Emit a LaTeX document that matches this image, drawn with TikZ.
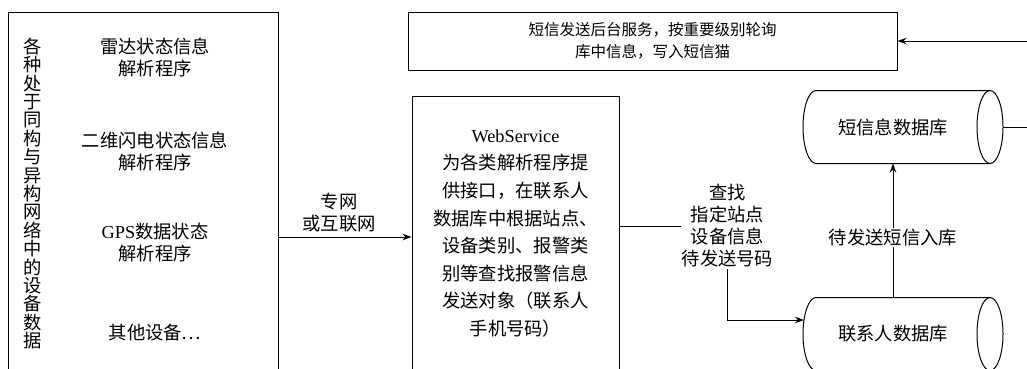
\documentclass[tikz,border=0pt]{standalone}
\usepackage{fontspec}
\setmainfont{Liberation Serif}
\newfontfamily\cjk{Noto Sans CJK SC}
\usetikzlibrary{arrows.meta}
\begin{document}
\begin{tikzpicture}[x=1pt,y=-1pt,
  box/.style={draw,line width=1pt,inner sep=0pt},
  txt/.style={font=\cjk\fontsize{18.3}{22}\selectfont,align=center,inner sep=1pt},
  dbtext/.style={font=\cjk\fontsize{18.3}{22}\selectfont,inner sep=0pt},
  dbline/.style={line width=1pt},
  arr/.style={line width=0.9pt,-{Stealth[length=9pt,width=6.5pt]}},
  ln/.style={line width=0.9pt}]
\useasboundingbox (0,0) rectangle (1027,368);
\clip (0,0) rectangle (1027,368);
% left box
\node[box,minimum width=270pt,minimum height=378pt] (leftbox) at (143,201) {};
\node[txt,font=\cjk\fontsize{18.3}{18.4}\selectfont] (vert) at (33,193.5) {各\\种\\处\\于\\同\\构\\与\\异\\构\\网\\络\\中\\的\\设\\备\\数\\据};
\node[txt] (p1) at (155,57) {雷达状态信息\\解析程序};
\node[txt] (p2) at (155,151) {二维闪电状态信息\\解析程序};
\node[txt] (p3) at (155,243) {{\rmfamily GPS}数据状态\\解析程序};
\node[txt] (p4) at (155,333) {其他设备…};
% webservice
\node[box,minimum width=207pt,minimum height=294pt] (ws) at (515.5,243) {};
\node[txt,font=\cjk\fontsize{18.3}{27.6}\selectfont] (wstext) at (515.5,233.5) {{\rmfamily WebService}\\为各类解析程序提\\供接口，在联系人\\数据库中根据站点、\\设备类别、报警类\\别等查找报警信息\\发送对象（联系人\\手机号码）};
% top box
\node[box,minimum width=489pt,minimum height=58pt,font=\cjk\fontsize{15.5}{22}\selectfont,align=center] (top) at (652.5,41) {短信发送后台服务，按重要级别轮询\\库中信息，写入短信猫};
% databases (horizontal cylinders)
\node[dbtext] (sms) at (893,127) {短信息数据库};
\node[dbtext] (contact) at (893,334) {联系人数据库};
\foreach \n in {sms,contact}{
  \draw[dbline] ([shift={(97,-36.5)}]\n.center) -- ([shift={(-77,-36.5)}]\n.center)
     arc[start angle=90,end angle=270,x radius=13pt,y radius=36.5pt]
     -- ([shift={(97,36.5)}]\n.center);
  \draw[dbline] ([xshift=97pt]\n.center) ellipse [x radius=13pt,y radius=36.5pt];
  \coordinate (\n-top) at ([yshift=36.5pt]\n.center);
  \coordinate (\n-bot) at ([yshift=-36.5pt]\n.center);
  \coordinate (\n-right) at ([xshift=110pt]\n.center);
}
\coordinate (contact-in) at ([shift={(-89,-14)}]contact.center);
% label
\node[txt] (find) at (727.5,226) {查找\\指定站点\\设备信息\\待发送号码};
% connectors
\draw[arr] (leftbox.east |- 0,237) -- node[txt,above=3pt,xshift=-6pt] (net) {专网\\或互联网} (ws.west |- 0,237);
\draw[ln] (ws.east |- find.west) -- (find.west);
\draw[arr] (find.south) |- (contact-in);
\draw[arr] (contact-top) -- node[txt,fill=white,pos=0.45] (lbl) {待发送短信入库} (sms-bot);
\draw[arr] (sms-right) -- ++(40,0) |- (top.east);
\end{tikzpicture}
\end{document}
